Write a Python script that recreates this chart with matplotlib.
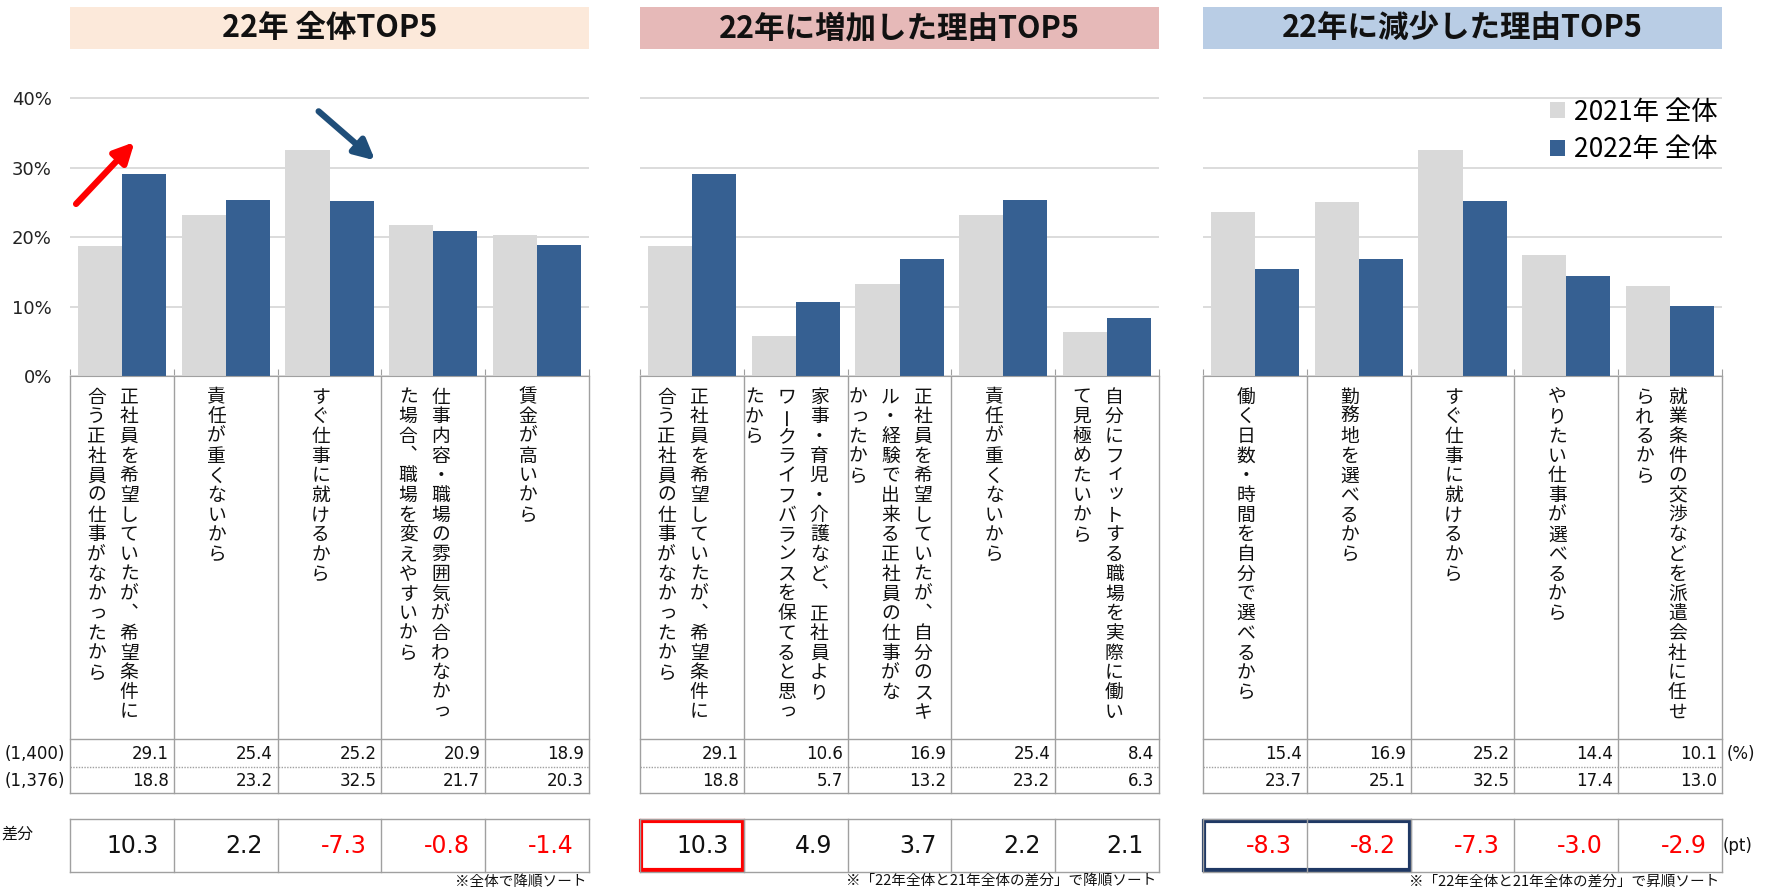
import matplotlib
matplotlib.use('Agg')
import matplotlib.pyplot as plt
from matplotlib.patches import Rectangle
from matplotlib.transforms import blended_transform_factory
import numpy as np

plt.rcParams['font.family'] = ['Noto Sans CJK JP', 'DejaVu Sans']

W, H = 1769, 891

# ---- data ----
titles = ['22年 全体TOP5', '22年に増加した理由TOP5', '22年に減少した理由TOP5']
title_colors = ['#FCE9DA', '#E6B9B8', '#B9CDE5']

labels_p1 = [["正社員を希望していたが、希望条件に", "合う正社員の仕事がなかったから"],
             ["責任が重くないから"],
             ["すぐ仕事に就けるから"],
             ["仕事内容・職場の雰囲気が合わなかっ", "た場合、職場を変えやすいから"],
             ["賃金が高いから"]]
labels_p2 = [["正社員を希望していたが、希望条件に", "合う正社員の仕事がなかったから"],
             ["家事・育児・介護など、正社員より", "ワークライフバランスを保てると思っ", "たから"],
             ["正社員を希望していたが、自分のスキ", "ル・経験で出来る正社員の仕事がな", "かったから"],
             ["責任が重くないから"],
             ["自分にフィットする職場を実際に働い", "て見極めたいから"]]
labels_p3 = [["働く日数・時間を自分で選べるから"],
             ["勤務地を選べるから"],
             ["すぐ仕事に就けるから"],
             ["やりたい仕事が選べるから"],
             ["就業条件の交渉などを派遣会社に任せ", "られるから"]]

vals_2022_p1 = [29.1, 25.4, 25.2, 20.9, 18.9]
vals_2021_p1 = [18.8, 23.2, 32.5, 21.7, 20.3]
diff_p1 = [10.3, 2.2, -7.3, -0.8, -1.4]

vals_2022_p2 = [29.1, 10.6, 16.9, 25.4, 8.4]
vals_2021_p2 = [18.8, 5.7, 13.2, 23.2, 6.3]
diff_p2 = [10.3, 4.9, 3.7, 2.2, 2.1]

vals_2022_p3 = [15.4, 16.9, 25.2, 14.4, 10.1]
vals_2021_p3 = [23.7, 25.1, 32.5, 17.4, 13.0]
diff_p3 = [-8.3, -8.2, -7.3, -3.0, -2.9]

n_2022 = '(1,400)'
n_2021 = '(1,376)'
legend_labels = ['2021年 全体', '2022年 全体']
notes = ['※全体で降順ソート',
         '※「22年全体と21年全体の差分」で降順ソート',
         '※「22年全体と21年全体の差分」で昇順ソート']
yticks = [0, 10, 20, 30, 40]

panels = [(labels_p1, vals_2021_p1, vals_2022_p1, diff_p1),
          (labels_p2, vals_2021_p2, vals_2022_p2, diff_p2),
          (labels_p3, vals_2021_p3, vals_2022_p3, diff_p3)]

# ---- layout (pixels) ----
panel_px = [(70, 589), (640, 1159), (1203, 1722)]
y0_px = 376          # 0% baseline
px_per_pct = 6.94
ytop = 41
gray = '#D9D9D9'
blue = '#366092'
lc = '#A0A0A0'


def fy(y):
    return 1 - y / H


fig = plt.figure(figsize=(W / 100, H / 100), dpi=100)

axes = []
for p, (labels, v21, v22, diff) in enumerate(panels):
    x0, x1 = panel_px[p]
    cw = (x1 - x0) / 5
    ax = fig.add_axes([x0 / W, (H - y0_px) / H, (x1 - x0) / W, ytop * px_per_pct / H])
    axes.append(ax)
    x = np.arange(5)
    bw = 0.425
    ax.bar(x - bw / 2, v21, bw, color=gray, label=legend_labels[0], zorder=2)
    ax.bar(x + bw / 2, v22, bw, color=blue, label=legend_labels[1], zorder=2)
    ax.set_xlim(-0.5, 4.5)
    ax.set_ylim(0, ytop)
    ax.set_yticks(yticks)
    ax.yaxis.grid(True, color='#D9D9D9', lw=1.3)
    ax.set_axisbelow(True)
    for s in ['top', 'left', 'right']:
        ax.spines[s].set_visible(False)
    ax.spines['bottom'].set_color(lc)
    ax.set_xticks(np.arange(-0.5, 5, 1))
    ax.tick_params(axis='x', direction='in', length=5, color=lc, labelbottom=False)
    if p == 0:
        ax.set_yticklabels([f'{t}%' for t in yticks], fontsize=13, family='DejaVu Sans',
                           color='#222222')
        ax.tick_params(axis='y', length=0, pad=13)
    else:
        ax.tick_params(axis='y', length=0, labelleft=False)

    tr = blended_transform_factory(ax.transData, fig.transFigure)

    # title band
    ax.add_patch(Rectangle((-0.5, fy(49)), 5, fy(7) - fy(49), transform=tr,
                           facecolor=title_colors[p], edgecolor='none', clip_on=False))
    ax.text(2, fy(28), titles[p], transform=tr, ha='center', va='center',
            fontsize=22, fontweight='bold', color='#111111')

    # table lines
    for b in np.arange(-0.5, 5, 1):
        ax.plot([b, b], [fy(376), fy(793)], transform=tr, color=lc, lw=1, clip_on=False)
        ax.plot([b, b], [fy(819), fy(872)], transform=tr, color=lc, lw=1, clip_on=False)
    for yy in [739, 793, 819, 872]:
        ax.plot([-0.5, 4.5], [fy(yy)] * 2, transform=tr, color=lc, lw=1, clip_on=False)
    ax.plot([-0.5, 4.5], [fy(767)] * 2, transform=tr, color=lc, lw=1,
            ls=(0, (1, 1)), clip_on=False)

    # values
    for k in range(5):
        ax.text(k + 0.5 - 5 / cw, fy(754), f'{v22[k]:.1f}', transform=tr, ha='right',
                va='center', fontsize=12, family='DejaVu Sans', color='#111111')
        ax.text(k + 0.5 - 5 / cw, fy(781), f'{v21[k]:.1f}', transform=tr, ha='right',
                va='center', fontsize=12, family='DejaVu Sans', color='#111111')
        ax.text(k + 0.5 - 15 / cw, fy(846), f'{diff[k]:.1f}', transform=tr, ha='right',
                va='center', fontsize=17, family='DejaVu Sans',
                color='#FF0000' if diff[k] < 0 else '#111111')

    # vertical category labels (one character per text, top to bottom)
    for k, cols in enumerate(labels):
        n = len(cols)
        for j, col in enumerate(cols):
            xc = k - 9 / cw + ((n - 1) / 2 - j) * 32.5 / cw
            for m, ch in enumerate(col):
                yc = 397 + m * 19.7
                rot = 0
                dx, dy = 0, 0
                if ch == 'ー':
                    rot = 90
                elif ch == '、':
                    ch = '\ufe11'   # vertical ideographic comma
                elif ch in 'っッィ':
                    dx, dy = 2, -2
                ax.text(xc + dx / cw, fy(yc + dy), ch, transform=tr, ha='center',
                        va='center', fontsize=13.5, rotation=rot, color='#111111')

    # note
    ax.text(4.5 - 3 / cw, fy(882), notes[p], transform=tr, ha='right', va='center',
            fontsize=10.5, color='#111111')

# highlight boxes
tr2 = blended_transform_factory(axes[1].transData, fig.transFigure)
axes[1].add_patch(Rectangle((-0.49, fy(870)), 0.98, fy(821) - fy(870), transform=tr2,
                            facecolor='none', edgecolor='#FF0000', lw=3, clip_on=False))
tr3 = blended_transform_factory(axes[2].transData, fig.transFigure)
axes[2].add_patch(Rectangle((-0.49, fy(870)), 1.98, fy(821) - fy(870), transform=tr3,
                            facecolor='none', edgecolor='#1F3864', lw=3, clip_on=False))

# arrows in first panel
axes[0].annotate('', xy=(0.14, 34.0), xytext=(-0.46, 24.5),
                 arrowprops=dict(arrowstyle='-|>', color='#FF0000', lw=4.5, mutation_scale=30),
                 annotation_clip=False)
axes[0].annotate('', xy=(2.46, 30.8), xytext=(1.875, 38.4),
                 arrowprops=dict(arrowstyle='-|>', color='#1F4E79', lw=4.5, mutation_scale=30),
                 annotation_clip=False)

# legend
axes[2].legend(loc='upper left', bbox_to_anchor=(1550 / W, fy(98.5)),
               bbox_transform=fig.transFigure, frameon=False, fontsize=19,
               handlelength=0.55, handleheight=0.55, handletextpad=0.35,
               labelspacing=0.41, borderpad=0, borderaxespad=0)

# row labels and units
fig.text(65 / W, fy(754), n_2022, ha='right', va='center', fontsize=12,
         family='DejaVu Sans', color='#111111')
fig.text(65 / W, fy(781), n_2021, ha='right', va='center', fontsize=12,
         family='DejaVu Sans', color='#111111')
fig.text(1 / W, fy(826), '差分', ha='left', va='top', fontsize=11.5, color='#111111')
fig.text(1727 / W, fy(754), '(%)', ha='left', va='center', fontsize=12,
         family='DejaVu Sans', color='#111111')
fig.text(1723 / W, fy(846), '(pt)', ha='left', va='center', fontsize=12,
         family='DejaVu Sans', color='#111111')

fig.savefig('out.png', dpi=100)
